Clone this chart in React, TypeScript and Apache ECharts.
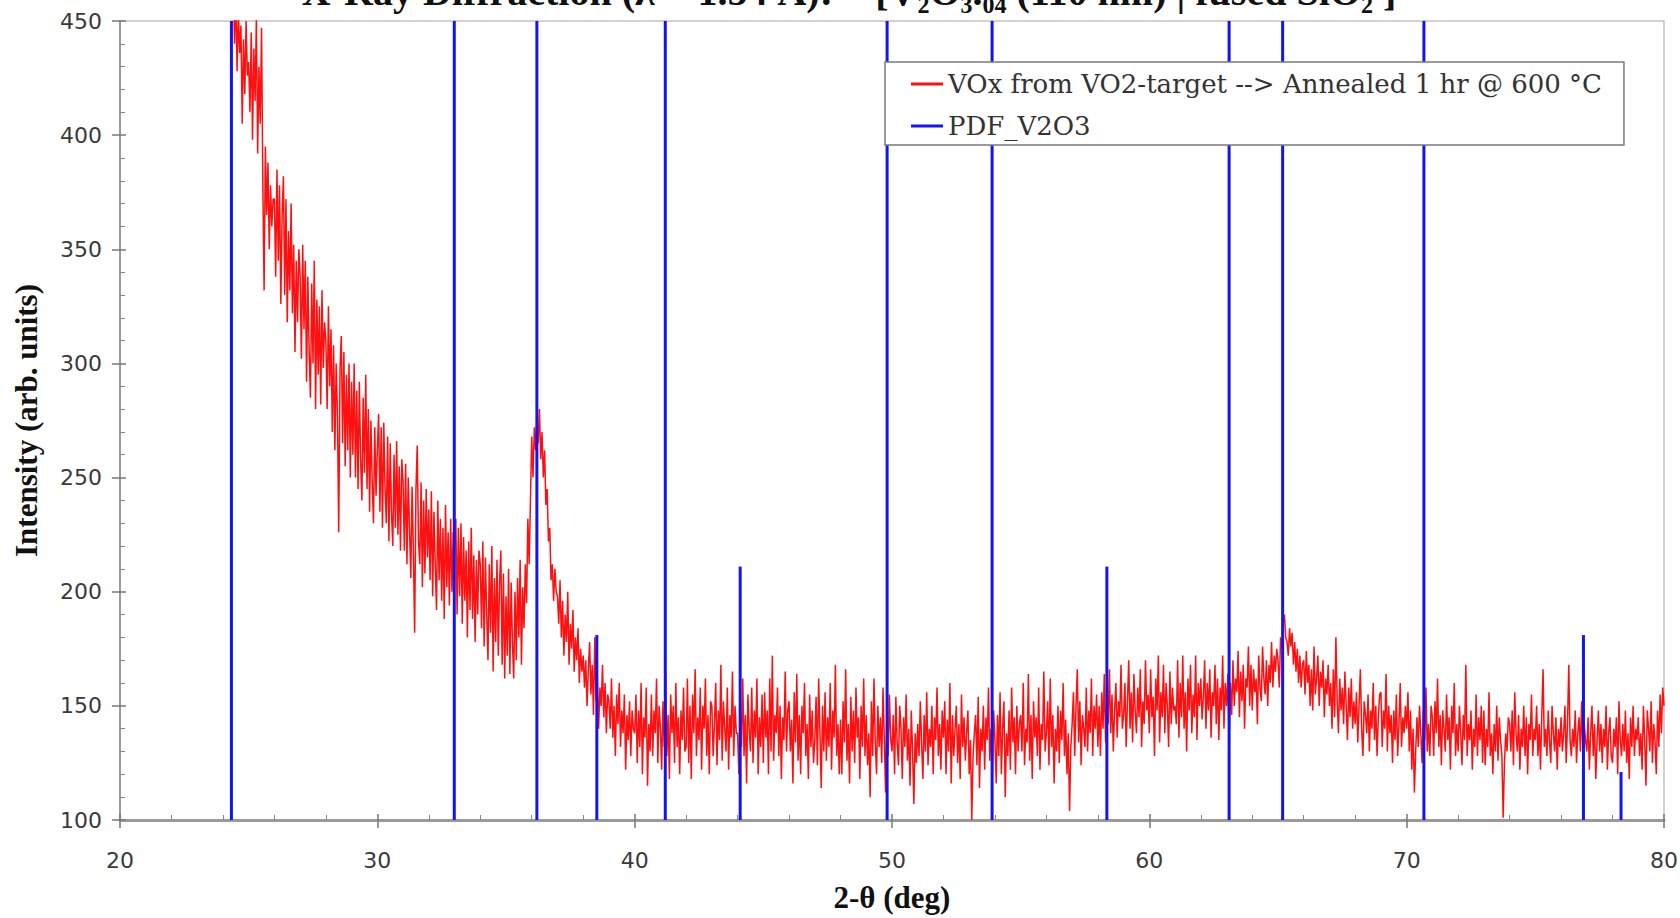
import React, { useEffect, useRef } from 'react';
import * as echarts from 'echarts';

// ---- data ----
const scanStart = 24.3; // first 2-theta of the scan (deg)
const scanStep = 0.05; // scan step (deg)

// measured intensity (arb. units), one row per degree (24.3-24.95, then 25.00-25.95, ...)
const intensity: number[] = [
  485, 452, 470, 440, 462, 428, 455, 436, 448, 405, 442, 418, 450, 426,
  432, 410, 445, 398, 438, 415, 452, 392, 430, 405, 447, 380, 332, 395, 365, 388, 350, 378, 360, 372,
  372, 338, 385, 345, 378, 326, 365, 382, 330, 372, 318, 358, 332, 370, 322, 352, 305, 345, 318, 350,
  338, 302, 352, 315, 345, 292, 338, 305, 285, 335, 300, 345, 280, 328, 295, 325, 282, 332, 298, 318,
  310, 280, 325, 290, 315, 270, 308, 262, 300, 278, 226, 298, 312, 265, 305, 255, 295, 262, 300, 250,
  292, 260, 300, 250, 288, 245, 292, 258, 240, 285, 252, 295, 245, 280, 235, 275, 248, 230, 272, 242,
  262, 278, 235, 272, 228, 274, 245, 230, 268, 222, 265, 235, 220, 260, 228, 266, 225, 255, 218, 258,
  248, 218, 256, 212, 250, 228, 206, 246, 218, 182, 244, 264, 222, 212, 248, 202, 240, 208, 245, 215,
  236, 205, 244, 198, 235, 212, 192, 240, 205, 232, 196, 228, 188, 238, 202, 226, 194, 232, 200, 226,
  220, 232, 190, 228, 198, 230, 186, 224, 196, 218, 180, 222, 192, 228, 188, 216, 178, 214, 190, 218,
  212, 184, 222, 176, 215, 190, 170, 212, 182, 220, 165, 206, 178, 214, 172, 204, 218, 168, 208, 162,
  198, 172, 210, 164, 204, 178, 162, 200, 170, 206, 180, 214, 168, 202, 184, 212, 195, 232, 212, 240,
  268, 250, 272, 262, 276, 265, 280, 258, 270, 250, 262, 238, 245, 222, 228, 205, 212, 196, 210, 200,
  198, 186, 205, 180, 196, 172, 190, 178, 200, 168, 186, 175, 192, 165, 180, 170, 184, 160, 175, 165,
  172, 158, 170, 150, 166, 178, 155, 168, 146, 180, 152, 162, 140, 158, 150, 168, 145, 160, 138, 155,
  152, 140, 162, 136, 150, 128, 155, 142, 160, 132, 148, 138, 155, 122, 146, 135, 152, 128, 148, 140,
  138, 155, 125, 148, 132, 160, 120, 145, 136, 158, 115, 142, 130, 155, 128, 148, 138, 162, 125, 150,
  140, 122, 152, 132, 165, 128, 146, 118, 155, 138, 150, 125, 160, 132, 145, 120, 148, 135, 158, 130,
  132, 162, 125, 150, 118, 155, 138, 166, 128, 145, 135, 158, 122, 150, 140, 162, 128, 146, 120, 152,
  150, 128, 142, 160, 124, 148, 135, 168, 126, 152, 140, 130, 158, 122, 146, 136, 165, 128, 150, 138,
  138, 120, 150, 132, 162, 128, 146, 116, 155, 140, 130, 158, 125, 148, 136, 162, 120, 145, 132, 155,
  125, 156, 136, 148, 120, 162, 130, 172, 126, 146, 138, 158, 128, 150, 118, 145, 135, 165, 130, 148,
  152, 130, 144, 116, 156, 134, 164, 126, 146, 120, 150, 138, 160, 128, 142, 118, 155, 132, 148, 125,
  135, 154, 124, 162, 138, 114, 150, 130, 156, 126, 145, 132, 160, 122, 148, 136, 168, 128, 142, 120,
  144, 120, 152, 134, 166, 126, 142, 116, 154, 130, 148, 125, 158, 136, 145, 118, 150, 132, 162, 128,
  146, 124, 138, 110, 152, 128, 162, 134, 120, 150, 132, 145, 125, 158, 136, 112, 148, 128, 155, 135,
  130, 146, 120, 154, 134, 124, 150, 140, 118, 145, 132, 155, 126, 140, 115, 148, 130, 107, 138, 125,
  142, 128, 152, 134, 118, 146, 130, 156, 124, 140, 132, 150, 120, 145, 135, 158, 128, 142, 122, 148,
  136, 152, 120, 144, 130, 160, 116, 146, 128, 140, 150, 125, 142, 118, 155, 132, 145, 126, 138, 148,
  120, 135, 100, 128, 138, 146, 124, 154, 114, 140, 130, 150, 122, 145, 135, 158, 126, 140, 118, 148,
  135, 116, 146, 128, 156, 120, 140, 152, 110, 138, 128, 148, 122, 158, 134, 145, 120, 150, 130, 142,
  146, 130, 160, 124, 140, 134, 164, 126, 146, 118, 152, 136, 145, 128, 158, 122, 142, 135, 165, 130,
  138, 152, 124, 162, 132, 146, 116, 140, 130, 150, 125, 148, 135, 160, 128, 144, 120, 138, 104, 132,
  142, 156, 128, 150, 166, 134, 152, 124, 146, 140, 132, 158, 130, 148, 138, 162, 128, 150, 140, 155,
  132, 150, 128, 156, 140, 164, 134, 152, 142, 166, 138, 155, 130, 148, 160, 136, 152, 145, 168, 140,
  146, 160, 132, 152, 170, 140, 156, 134, 164, 148, 138, 158, 145, 166, 132, 152, 142, 170, 148, 155,
  138, 166, 145, 154, 128, 162, 148, 172, 134, 156, 145, 168, 138, 160, 150, 132, 165, 142, 158, 148,
  150, 142, 170, 136, 160, 145, 172, 140, 156, 130, 162, 148, 168, 138, 155, 145, 172, 135, 160, 150,
  162, 144, 154, 170, 140, 160, 148, 166, 136, 156, 150, 168, 142, 162, 135, 158, 148, 172, 140, 160,
  150, 164, 134, 160, 146, 170, 150, 162, 156, 174, 145, 165, 152, 168, 140, 162, 158, 176, 150, 168,
  148, 166, 156, 162, 142, 172, 158, 152, 176, 162, 155, 170, 150, 168, 160, 178, 158, 172, 165, 175,
  170, 158, 180, 175, 186, 190, 180, 178, 172, 184, 176, 182, 168, 178, 165, 175, 160, 172, 158, 168,
  170, 155, 174, 160, 168, 150, 166, 148, 176, 155, 162, 172, 150, 165, 158, 170, 145, 162, 155, 168,
  150, 160, 140, 166, 145, 180, 152, 138, 162, 148, 158, 142, 165, 150, 135, 158, 145, 162, 140, 152,
  142, 156, 134, 150, 166, 140, 128, 152, 146, 138, 155, 130, 148, 140, 160, 135, 150, 128, 145, 155,
  156, 132, 148, 140, 164, 130, 150, 138, 146, 125, 148, 135, 155, 128, 142, 160, 132, 145, 138, 150,
  140, 156, 130, 148, 122, 140, 112, 130, 145, 132, 150, 138, 125, 148, 135, 158, 130, 142, 128, 150,
  145, 128, 152, 138, 162, 132, 146, 124, 148, 140, 130, 155, 135, 145, 122, 150, 138, 160, 128, 142,
  130, 150, 138, 124, 146, 135, 168, 128, 142, 135, 148, 122, 140, 132, 155, 128, 145, 135, 150, 125,
  148, 124, 140, 132, 156, 128, 138, 120, 142, 130, 150, 126, 145, 135, 128, 101, 125, 138, 130, 145,
  142, 130, 148, 124, 156, 138, 130, 146, 122, 140, 132, 150, 128, 145, 120, 142, 135, 155, 128, 140,
  135, 150, 128, 142, 122, 146, 166, 132, 140, 128, 148, 135, 125, 150, 138, 130, 145, 122, 140, 132,
  145, 130, 138, 150, 125, 142, 168, 135, 128, 140, 132, 148, 125, 138, 145, 130, 152, 128, 142, 135,
  130, 145, 122, 138, 150, 128, 142, 118, 135, 148, 130, 142, 125, 140, 132, 150, 122, 138, 145, 128,
  125, 140, 132, 145, 120, 152, 135, 128, 142, 130, 148, 125, 138, 118, 145, 132, 150, 128, 140, 135,
  145, 128, 138, 122, 150, 135, 115, 148, 140, 130, 152, 125, 142, 135, 120, 148, 132, 155, 138, 158,
  150,
];

// PDF reference pattern for V2O3: line positions (deg) and displayed heights
const pdfPositions = [24.33, 32.99, 36.2, 38.53, 41.19, 44.1, 49.81, 53.89, 58.35, 63.1, 65.18, 70.67, 76.87, 78.33];
const pdfHeights = [450, 450, 450, 181, 450, 211, 450, 450, 211, 450, 450, 450, 181, 121];

const seriesNames = ['VOx from VO2-target --> Annealed 1 hr @ 600 °C', 'PDF_V2O3'];
const titleText = 'X-Ray Diffraction (λ = 1.54 Å):  "[V₂O₃.₀₄ (110 nm) | fused SiO₂ ]';
const xAxisTitle = '2-θ (deg)';
const yAxisTitle = 'Intensity (arb. units)';
const xRange = [20, 80];
const yRange = [100, 450];

export default function App() {
  const ref = useRef<HTMLDivElement>(null);
  useEffect(() => {
    if (!ref.current) return;
    const chart = echarts.init(ref.current, null, { renderer: 'svg' });
    const redData = intensity.map((v, i) => [Number((scanStart + i * scanStep).toFixed(2)), v]);
    const pdfData = pdfPositions.map((p, i) => [p, pdfHeights[i]]);
    const gray = '#9a9a9a';
    const labelStyle = { fontFamily: 'DejaVu Sans', fontSize: 22, color: '#3a3a3a' };
    const axisTitleStyle = { fontFamily: 'Liberation Serif', fontWeight: 'bold', fontSize: 31, color: '#111' };
    chart.setOption({
      animation: false,
      backgroundColor: '#fff',
      grid: {
        left: 120,
        right: 16,
        top: 21,
        bottom: 98,
        outerBoundsMode: 'none',
        containLabel: false,
        show: true,
        borderColor: '#c4c4c4',
        borderWidth: 1.5,
      },
      graphic: [
        {
          type: 'text',
          x: 849,
          y: -9,
          style: {
            text: titleText,
            fontFamily: 'Liberation Serif',
            fontWeight: 'bold',
            fontSize: 40,
            fill: '#111',
            textAlign: 'center',
            textVerticalAlign: 'middle',
          },
        },
      ],
      legend: {
        left: 885,
        top: 62,
        orient: 'vertical',
        backgroundColor: '#fff',
        borderColor: '#7a7a7a',
        borderWidth: 1.5,
        borderRadius: 0,
        padding: [9, 22, 6, 26],
        itemGap: 16,
        itemWidth: 32,
        itemHeight: 3,
        textStyle: { fontFamily: 'DejaVu Serif', fontSize: 26, color: '#333' },
        data: [
          { name: seriesNames[0], icon: 'rect' },
          { name: seriesNames[1], icon: 'rect' },
        ],
      },
      xAxis: [
        {
          type: 'value',
          min: xRange[0],
          max: xRange[1],
          interval: 10,
          position: 'bottom',
          name: xAxisTitle,
          nameLocation: 'middle',
          nameGap: 62,
          nameTextStyle: axisTitleStyle,
          axisLine: { show: true, onZero: false, lineStyle: { color: gray, width: 3 } },
          axisTick: { show: true, inside: false, length: 8, lineStyle: { color: '#777', width: 1.5 } },
          axisLabel: { ...labelStyle, margin: 29 },
          splitLine: { show: false },
        },
        {
          type: 'value',
          min: xRange[0],
          max: xRange[1],
          interval: 10,
          position: 'bottom',
          axisLine: { show: false, onZero: false },
          axisTick: { show: true, inside: true, length: 6, lineStyle: { color: '#777', width: 1.5 } },
          minorTick: { show: true, splitNumber: 5, length: 5, lineStyle: { color: '#888', width: 1 } },
          axisLabel: { show: false },
          splitLine: { show: false },
        },
      ],
      yAxis: [
        {
          type: 'value',
          min: yRange[0],
          max: yRange[1],
          interval: 50,
          position: 'left',
          name: yAxisTitle,
          nameLocation: 'middle',
          nameGap: 78,
          nameTextStyle: axisTitleStyle,
          axisLine: { show: true, onZero: false, lineStyle: { color: gray, width: 2 } },
          axisTick: { show: true, inside: false, length: 8, lineStyle: { color: '#777', width: 1.5 } },
          axisLabel: { ...labelStyle, margin: 18 },
          splitLine: { show: false },
        },
        {
          type: 'value',
          min: yRange[0],
          max: yRange[1],
          interval: 50,
          position: 'left',
          axisLine: { show: false, onZero: false },
          axisTick: { show: true, inside: true, length: 6, lineStyle: { color: '#777', width: 1.5 } },
          minorTick: { show: true, splitNumber: 5, length: 5, lineStyle: { color: '#888', width: 1 } },
          axisLabel: { show: false },
          splitLine: { show: false },
        },
      ],
      series: [
        {
          name: seriesNames[0],
          type: 'line',
          xAxisIndex: 0,
          yAxisIndex: 0,
          data: redData,
          showSymbol: false,
          symbol: 'none',
          clip: true,
          color: '#ff1010',
          lineStyle: { color: '#ff1010', width: 1.5 },
          z: 2,
        },
        {
          name: seriesNames[1],
          type: 'custom',
          xAxisIndex: 0,
          yAxisIndex: 0,
          data: pdfData,
          clip: true,
          color: '#1414f0',
          itemStyle: { color: '#1414f0' },
          encode: { x: 0, y: 1 },
          renderItem: (params: any, api: any) => {
            const x = api.value(0);
            const p0 = api.coord([x, yRange[0]]);
            const p1 = api.coord([x, api.value(1)]);
            return {
              type: 'line',
              shape: { x1: p0[0], y1: p0[1], x2: p1[0], y2: p1[1] },
              style: { stroke: '#1414f0', lineWidth: 3 },
            };
          },
          z: 3,
        },
      ],
    });
    return () => chart.dispose();
  }, []);
  return <div ref={ref} style={{ position: 'fixed', left: 0, top: 0, width: 1680, height: 918 }} />;
}
